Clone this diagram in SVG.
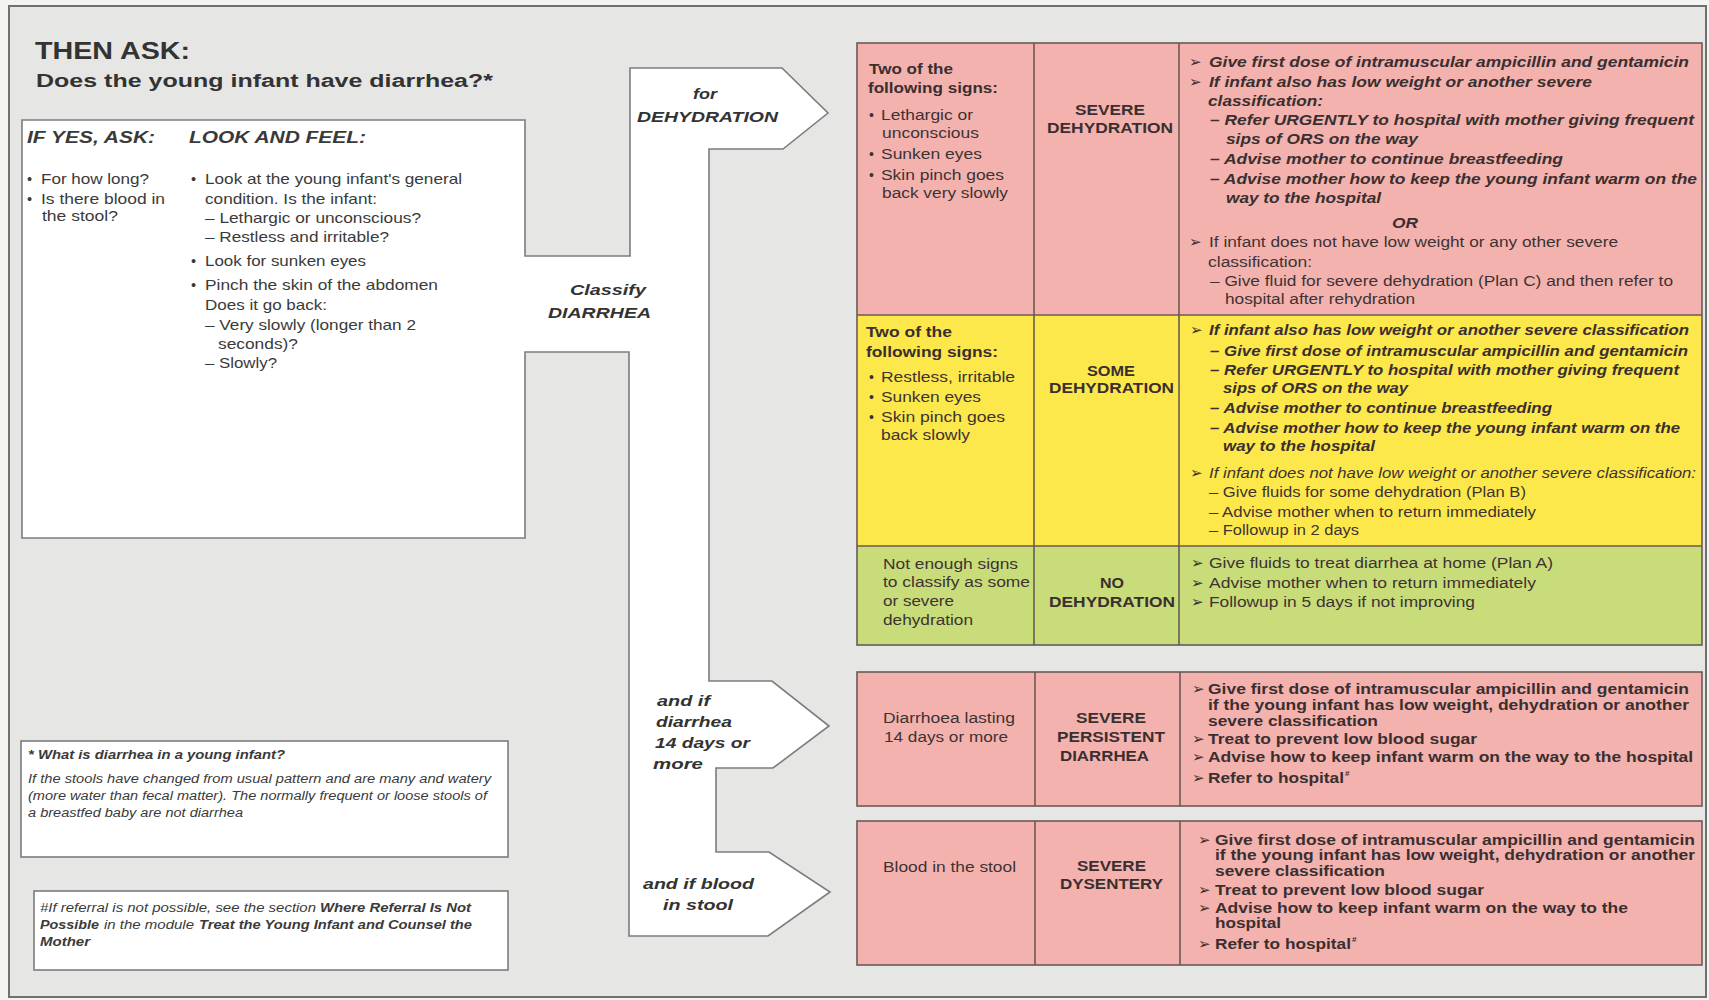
<svg xmlns="http://www.w3.org/2000/svg" width="1709" height="1000" viewBox="0 0 1709 1000">
  <defs>
    <style>
      text { font-family: "Liberation Sans", Arial, Helvetica, sans-serif; fill: #3a3a3a; }
      .h1 { font-size: 23px; font-weight: bold; fill: #333; }
      .h2 { font-size: 18px; font-weight: bold; fill: #333; }
      .hd { font-size: 16px; font-weight: bold; font-style: italic; }
      .lb { font-size: 14.5px; }
      .ar { font-size: 15px; font-weight: bold; font-style: italic; fill: #333; }
      .fn { font-size: 12px; font-style: italic; }
      .fnb { font-size: 12px; font-style: italic; font-weight: bold; }
      .c1 { font-size: 14px; fill: #3d3333; }
      .c1b { font-size: 14px; font-weight: bold; fill: #3a2f2f; }
      .c2 { font-size: 14px; font-weight: bold; fill: #3a2f2f; }
      .bi { font-size: 14px; font-weight: bold; font-style: italic; fill: #3a2f2f; }
      .rg { font-size: 14px; fill: #3d3333; }
      .it { font-size: 14px; font-style: italic; fill: #3d3333; }
      .bd { font-size: 14px; font-weight: bold; fill: #3a2f2f; }
      .mk { font-family: "DejaVu Sans", sans-serif; font-size: 15px; fill: #3a2f2f; }
      .sup { font-size: 8px; font-weight: bold; fill: #3a2f2f; }
      .box { fill: #ffffff; stroke: #7c7c7c; stroke-width: 1.6; }
      .grid { stroke: #6b5a55; stroke-width: 1.6; fill: none; }
      .pink { fill: #f4b2af; }
      .yellow { fill: #fde84b; }
      .green { fill: #c9dc7a; }
    </style>
  </defs>

  <!-- page -->
  <rect x="0" y="0" width="1709" height="1000" fill="#f3f3f1"/>
  <rect x="9" y="6" width="1697" height="991" fill="#e6e6e4" stroke="#707070" stroke-width="2"/>

  <!-- headings -->
  <g id="heading">
    <text class="h1" x="35" y="59" textLength="155" lengthAdjust="spacingAndGlyphs">THEN ASK:</text>
    <text class="h2" x="36" y="87" textLength="457" lengthAdjust="spacingAndGlyphs">Does the young infant have diarrhea?*</text>
  </g>

  <!-- ask / look box joined with the classify arrows -->
  <g id="connectors">
    <path class="box" d="M22,120 H525 V256 H630 V68 H782 L828,113 L783,149 H709 V681 H772 L829,726 L773,768 H716 V852 H769 L830,892 L768,936 H629 V352 H525 V538 H22 Z"/>
    <text class="ar" x="693" y="99" textLength="24" lengthAdjust="spacingAndGlyphs">for</text>
    <text class="ar" x="637" y="122" textLength="141" lengthAdjust="spacingAndGlyphs">DEHYDRATION</text>
    <text class="ar" x="570" y="295" textLength="76" lengthAdjust="spacingAndGlyphs">Classify</text>
    <text class="ar" x="548" y="318" textLength="103" lengthAdjust="spacingAndGlyphs">DIARRHEA</text>
    <text class="ar" x="657" y="706" textLength="53" lengthAdjust="spacingAndGlyphs">and if</text>
    <text class="ar" x="656" y="727" textLength="76" lengthAdjust="spacingAndGlyphs">diarrhea</text>
    <text class="ar" x="655" y="748" textLength="95" lengthAdjust="spacingAndGlyphs">14 days or</text>
    <text class="ar" x="653" y="769" textLength="50" lengthAdjust="spacingAndGlyphs">more</text>
    <text class="ar" x="643" y="889" textLength="111" lengthAdjust="spacingAndGlyphs">and if blood</text>
    <text class="ar" x="663" y="910" textLength="70" lengthAdjust="spacingAndGlyphs">in stool</text>
  </g>

  <!-- ask and look/feel lists -->
  <g id="assess">
    <text class="hd" x="27" y="143" textLength="128" lengthAdjust="spacingAndGlyphs">IF YES, ASK:</text>
    <text class="hd" x="189" y="143" textLength="177" lengthAdjust="spacingAndGlyphs">LOOK AND FEEL:</text>

    <text class="lb" x="27" y="184">•</text>
    <text class="lb" x="41" y="184" textLength="108" lengthAdjust="spacingAndGlyphs">For how long?</text>
    <text class="lb" x="27" y="204">•</text>
    <text class="lb" x="41" y="204" textLength="124" lengthAdjust="spacingAndGlyphs">Is there blood in</text>
    <text class="lb" x="42" y="221" textLength="76" lengthAdjust="spacingAndGlyphs">the stool?</text>

    <text class="lb" x="191" y="184">•</text>
    <text class="lb" x="205" y="184" textLength="257" lengthAdjust="spacingAndGlyphs">Look at the young infant's general</text>
    <text class="lb" x="205" y="204" textLength="172" lengthAdjust="spacingAndGlyphs">condition. Is the infant:</text>
    <text class="lb" x="205" y="223" textLength="216" lengthAdjust="spacingAndGlyphs">– Lethargic or unconscious?</text>
    <text class="lb" x="205" y="242" textLength="184" lengthAdjust="spacingAndGlyphs">– Restless and irritable?</text>
    <text class="lb" x="191" y="266">•</text>
    <text class="lb" x="205" y="266" textLength="161" lengthAdjust="spacingAndGlyphs">Look for sunken eyes</text>
    <text class="lb" x="191" y="290">•</text>
    <text class="lb" x="205" y="290" textLength="233" lengthAdjust="spacingAndGlyphs">Pinch the skin of the abdomen</text>
    <text class="lb" x="205" y="310" textLength="122" lengthAdjust="spacingAndGlyphs">Does it go back:</text>
    <text class="lb" x="205" y="330" textLength="211" lengthAdjust="spacingAndGlyphs">– Very slowly (longer than 2</text>
    <text class="lb" x="218" y="349" textLength="80" lengthAdjust="spacingAndGlyphs">seconds)?</text>
    <text class="lb" x="205" y="368" textLength="72" lengthAdjust="spacingAndGlyphs">– Slowly?</text>
  </g>

  <!-- footnotes -->
  <g id="note-diarrhea">
    <rect class="box" x="21" y="741" width="487" height="116"/>
    <text class="fnb" x="28" y="759" textLength="257" lengthAdjust="spacingAndGlyphs">* What is diarrhea in a young infant?</text>
    <text class="fn" x="28" y="783" textLength="463" lengthAdjust="spacingAndGlyphs">If the stools have changed from usual pattern and are many and watery</text>
    <text class="fn" x="28" y="800" textLength="459" lengthAdjust="spacingAndGlyphs">(more water than fecal matter). The normally frequent or loose stools of</text>
    <text class="fn" x="28" y="817" textLength="215" lengthAdjust="spacingAndGlyphs">a breastfed baby are not diarrhea</text>
  </g>
  <g id="note-referral">
    <rect class="box" x="34" y="891" width="474" height="79"/>
    <text class="fn" x="40" y="912" textLength="276" lengthAdjust="spacingAndGlyphs">#If referral is not possible, see the section</text>
    <text class="fnb" x="320" y="912" textLength="151" lengthAdjust="spacingAndGlyphs">Where Referral Is Not</text>
    <text class="fnb" x="40" y="929" textLength="59" lengthAdjust="spacingAndGlyphs">Possible</text>
    <text class="fn" x="104" y="929" textLength="90" lengthAdjust="spacingAndGlyphs">in the module</text>
    <text class="fnb" x="199" y="929" textLength="273" lengthAdjust="spacingAndGlyphs">Treat the Young Infant and Counsel the</text>
    <text class="fnb" x="40" y="946" textLength="50" lengthAdjust="spacingAndGlyphs">Mother</text>
  </g>

  <!-- classification table: dehydration -->
  <g id="table-dehydration">
    <rect class="pink" x="857" y="43" width="845" height="272"/>
    <rect class="yellow" x="857" y="315" width="845" height="231"/>
    <rect class="green" x="857" y="546" width="845" height="99"/>
    <rect class="grid" x="857" y="43" width="845" height="602"/>
    <path class="grid" d="M857,315 H1702 M857,546 H1702 M1034,43 V645 M1179,43 V645"/>
  </g>

  <g id="severe-dehydration">
    <text class="c1b" x="869" y="74" textLength="84" lengthAdjust="spacingAndGlyphs">Two of the</text>
    <text class="c1b" x="868" y="93" textLength="130" lengthAdjust="spacingAndGlyphs">following signs:</text>
    <text class="c1" x="869" y="120">•</text>
    <text class="c1" x="881" y="120" textLength="92" lengthAdjust="spacingAndGlyphs">Lethargic or</text>
    <text class="c1" x="882" y="138" textLength="97" lengthAdjust="spacingAndGlyphs">unconscious</text>
    <text class="c1" x="869" y="159">•</text>
    <text class="c1" x="881" y="159" textLength="101" lengthAdjust="spacingAndGlyphs">Sunken eyes</text>
    <text class="c1" x="869" y="180">•</text>
    <text class="c1" x="881" y="180" textLength="123" lengthAdjust="spacingAndGlyphs">Skin pinch goes</text>
    <text class="c1" x="882" y="198" textLength="126" lengthAdjust="spacingAndGlyphs">back very slowly</text>

    <text class="c2" x="1075" y="115" textLength="70" lengthAdjust="spacingAndGlyphs">SEVERE</text>
    <text class="c2" x="1047" y="133" textLength="126" lengthAdjust="spacingAndGlyphs">DEHYDRATION</text>

    <text class="mk" x="1189" y="67">➢</text>
    <text class="bi" x="1209" y="67" textLength="480" lengthAdjust="spacingAndGlyphs">Give first dose of intramuscular ampicillin and gentamicin</text>
    <text class="mk" x="1189" y="87">➢</text>
    <text class="bi" x="1209" y="87" textLength="383" lengthAdjust="spacingAndGlyphs">If infant also has low weight or another severe</text>
    <text class="bi" x="1208" y="106" textLength="115" lengthAdjust="spacingAndGlyphs">classification:</text>
    <text class="bi" x="1210" y="125" textLength="484" lengthAdjust="spacingAndGlyphs">– Refer URGENTLY to hospital with mother giving frequent</text>
    <text class="bi" x="1226" y="144" textLength="192" lengthAdjust="spacingAndGlyphs">sips of ORS on the way</text>
    <text class="bi" x="1210" y="164" textLength="353" lengthAdjust="spacingAndGlyphs">– Advise mother to continue breastfeeding</text>
    <text class="bi" x="1210" y="184" textLength="487" lengthAdjust="spacingAndGlyphs">– Advise mother how to keep the young infant warm on the</text>
    <text class="bi" x="1226" y="203" textLength="155" lengthAdjust="spacingAndGlyphs">way to the hospital</text>
    <text class="bi" x="1392" y="228" textLength="26" lengthAdjust="spacingAndGlyphs">OR</text>
    <text class="mk" x="1189" y="247">➢</text>
    <text class="rg" x="1209" y="247" textLength="409" lengthAdjust="spacingAndGlyphs">If infant does not have low weight or any other severe</text>
    <text class="rg" x="1208" y="267" textLength="104" lengthAdjust="spacingAndGlyphs">classification:</text>
    <text class="rg" x="1210" y="286" textLength="463" lengthAdjust="spacingAndGlyphs">– Give fluid for severe dehydration (Plan C) and then refer to</text>
    <text class="rg" x="1225" y="304" textLength="190" lengthAdjust="spacingAndGlyphs">hospital after rehydration</text>
  </g>

  <g id="some-dehydration">
    <text class="c1b" x="866" y="337" textLength="86" lengthAdjust="spacingAndGlyphs">Two of the</text>
    <text class="c1b" x="866" y="357" textLength="132" lengthAdjust="spacingAndGlyphs">following signs:</text>
    <text class="c1" x="869" y="382">•</text>
    <text class="c1" x="881" y="382" textLength="134" lengthAdjust="spacingAndGlyphs">Restless, irritable</text>
    <text class="c1" x="869" y="402">•</text>
    <text class="c1" x="881" y="402" textLength="100" lengthAdjust="spacingAndGlyphs">Sunken eyes</text>
    <text class="c1" x="869" y="422">•</text>
    <text class="c1" x="881" y="422" textLength="124" lengthAdjust="spacingAndGlyphs">Skin pinch goes</text>
    <text class="c1" x="881" y="440" textLength="89" lengthAdjust="spacingAndGlyphs">back slowly</text>

    <text class="c2" x="1087" y="376" textLength="48" lengthAdjust="spacingAndGlyphs">SOME</text>
    <text class="c2" x="1049" y="393" textLength="125" lengthAdjust="spacingAndGlyphs">DEHYDRATION</text>

    <text class="mk" x="1190" y="335">➢</text>
    <text class="bi" x="1209" y="335" textLength="480" lengthAdjust="spacingAndGlyphs">If infant also has low weight or another severe classification</text>
    <text class="bi" x="1210" y="356" textLength="478" lengthAdjust="spacingAndGlyphs">– Give first dose of intramuscular ampicillin and gentamicin</text>
    <text class="bi" x="1210" y="375" textLength="469" lengthAdjust="spacingAndGlyphs">– Refer URGENTLY to hospital with mother giving frequent</text>
    <text class="bi" x="1223" y="393" textLength="185" lengthAdjust="spacingAndGlyphs">sips of ORS on the way</text>
    <text class="bi" x="1210" y="413" textLength="342" lengthAdjust="spacingAndGlyphs">– Advise mother to continue breastfeeding</text>
    <text class="bi" x="1210" y="433" textLength="470" lengthAdjust="spacingAndGlyphs">– Advise mother how to keep the young infant warm on the</text>
    <text class="bi" x="1223" y="451" textLength="152" lengthAdjust="spacingAndGlyphs">way to the hospital</text>
    <text class="mk" x="1190" y="478">➢</text>
    <text class="it" x="1209" y="478" textLength="487" lengthAdjust="spacingAndGlyphs">If infant does not have low weight or another severe classification:</text>
    <text class="rg" x="1209" y="497" textLength="317" lengthAdjust="spacingAndGlyphs">– Give fluids for some dehydration (Plan B)</text>
    <text class="rg" x="1209" y="517" textLength="327" lengthAdjust="spacingAndGlyphs">– Advise mother when to return immediately</text>
    <text class="rg" x="1209" y="535" textLength="150" lengthAdjust="spacingAndGlyphs">– Followup in 2 days</text>
  </g>

  <g id="no-dehydration">
    <text class="c1" x="883" y="569" textLength="135" lengthAdjust="spacingAndGlyphs">Not enough signs</text>
    <text class="c1" x="883" y="587" textLength="147" lengthAdjust="spacingAndGlyphs">to classify as some</text>
    <text class="c1" x="883" y="606" textLength="71" lengthAdjust="spacingAndGlyphs">or severe</text>
    <text class="c1" x="883" y="625" textLength="90" lengthAdjust="spacingAndGlyphs">dehydration</text>

    <text class="c2" x="1100" y="588" textLength="24" lengthAdjust="spacingAndGlyphs">NO</text>
    <text class="c2" x="1049" y="607" textLength="126" lengthAdjust="spacingAndGlyphs">DEHYDRATION</text>

    <text class="mk" x="1191" y="568">➢</text>
    <text class="rg" x="1209" y="568" textLength="344" lengthAdjust="spacingAndGlyphs">Give fluids to treat diarrhea at home (Plan A)</text>
    <text class="mk" x="1191" y="588">➢</text>
    <text class="rg" x="1209" y="588" textLength="327" lengthAdjust="spacingAndGlyphs">Advise mother when to return immediately</text>
    <text class="mk" x="1191" y="607">➢</text>
    <text class="rg" x="1209" y="607" textLength="266" lengthAdjust="spacingAndGlyphs">Followup in 5 days if not improving</text>
  </g>

  <!-- classification table: persistent diarrhea -->
  <g id="severe-persistent-diarrhea">
    <rect class="pink" x="857" y="672" width="845" height="134"/>
    <rect class="grid" x="857" y="672" width="845" height="134"/>
    <path class="grid" d="M1035,672 V806 M1180,672 V806"/>
    <text class="c1" x="883" y="723" textLength="132" lengthAdjust="spacingAndGlyphs">Diarrhoea lasting</text>
    <text class="c1" x="884" y="742" textLength="124" lengthAdjust="spacingAndGlyphs">14 days or more</text>

    <text class="c2" x="1076" y="723" textLength="70" lengthAdjust="spacingAndGlyphs">SEVERE</text>
    <text class="c2" x="1057" y="742" textLength="108" lengthAdjust="spacingAndGlyphs">PERSISTENT</text>
    <text class="c2" x="1060" y="761" textLength="89" lengthAdjust="spacingAndGlyphs">DIARRHEA</text>

    <text class="mk" x="1192" y="694">➢</text>
    <text class="bd" x="1208" y="694" textLength="481" lengthAdjust="spacingAndGlyphs">Give first dose of intramuscular ampicillin and gentamicin</text>
    <text class="bd" x="1208" y="710" textLength="481" lengthAdjust="spacingAndGlyphs">if the young infant has low weight, dehydration or another</text>
    <text class="bd" x="1208" y="726" textLength="170" lengthAdjust="spacingAndGlyphs">severe classification</text>
    <text class="mk" x="1192" y="744">➢</text>
    <text class="bd" x="1208" y="744" textLength="269" lengthAdjust="spacingAndGlyphs">Treat to prevent low blood sugar</text>
    <text class="mk" x="1192" y="762">➢</text>
    <text class="bd" x="1208" y="762" textLength="485" lengthAdjust="spacingAndGlyphs">Advise how to keep infant warm on the way to the hospital</text>
    <text class="mk" x="1192" y="783">➢</text>
    <text class="bd" x="1208" y="783" textLength="136" lengthAdjust="spacingAndGlyphs">Refer to hospital</text>
    <text class="sup" x="1345" y="776">#</text>
  </g>

  <!-- classification table: dysentery -->
  <g id="severe-dysentery">
    <rect class="pink" x="857" y="821" width="845" height="144"/>
    <rect class="grid" x="857" y="821" width="845" height="144"/>
    <path class="grid" d="M1035,821 V965 M1180,821 V965"/>
    <text class="c1" x="883" y="872" textLength="133" lengthAdjust="spacingAndGlyphs">Blood in the stool</text>

    <text class="c2" x="1077" y="871" textLength="69" lengthAdjust="spacingAndGlyphs">SEVERE</text>
    <text class="c2" x="1060" y="889" textLength="103" lengthAdjust="spacingAndGlyphs">DYSENTERY</text>

    <text class="mk" x="1198" y="845">➢</text>
    <text class="bd" x="1215" y="845" textLength="480" lengthAdjust="spacingAndGlyphs">Give first dose of intramuscular ampicillin and gentamicin</text>
    <text class="bd" x="1215" y="860" textLength="480" lengthAdjust="spacingAndGlyphs">if the young infant has low weight, dehydration or another</text>
    <text class="bd" x="1215" y="876" textLength="170" lengthAdjust="spacingAndGlyphs">severe classification</text>
    <text class="mk" x="1198" y="895">➢</text>
    <text class="bd" x="1215" y="895" textLength="269" lengthAdjust="spacingAndGlyphs">Treat to prevent low blood sugar</text>
    <text class="mk" x="1198" y="913">➢</text>
    <text class="bd" x="1215" y="913" textLength="413" lengthAdjust="spacingAndGlyphs">Advise how to keep infant warm on the way to the</text>
    <text class="bd" x="1215" y="928" textLength="66" lengthAdjust="spacingAndGlyphs">hospital</text>
    <text class="mk" x="1198" y="949">➢</text>
    <text class="bd" x="1215" y="949" textLength="136" lengthAdjust="spacingAndGlyphs">Refer to hospital</text>
    <text class="sup" x="1352" y="942">#</text>
  </g>
</svg>
